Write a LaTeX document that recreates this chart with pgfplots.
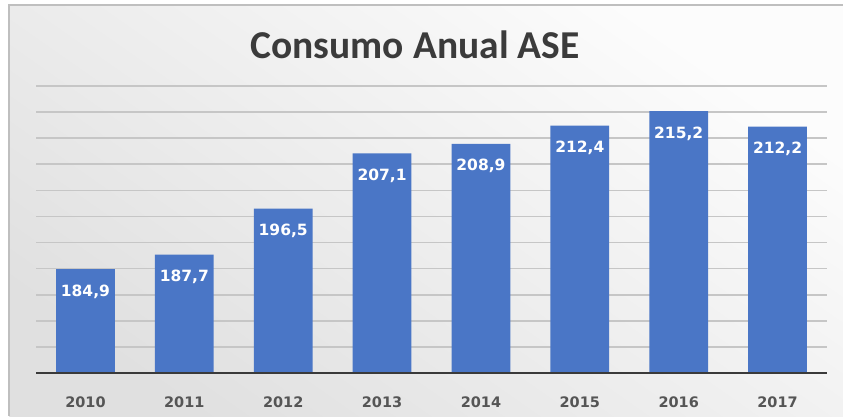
\documentclass[border=0pt]{standalone}
\usepackage{pgfplots}
\pgfplotsset{compat=1.18}
\usepackage{fontspec}
\setmainfont{Carlito}
\newfontfamily\djs{DejaVu Sans}
\definecolor{barblue}{HTML}{4A76C6}
\definecolor{gridc}{HTML}{C6C6C6}
\definecolor{basec}{HTML}{3A3A3A}
\definecolor{tickc}{HTML}{555555}
\definecolor{titlec}{HTML}{3B3B3B}
\begin{document}
\begin{tikzpicture}[x=1pt,y=1pt]
\useasboundingbox (0,0) rectangle (843,416);
\fill[white] (0,0) rectangle (843,416);
\shade[top color=black!1, bottom color=black!12, shading angle=-35] (9,0) rectangle (843,411);
\draw[black!25, line width=1.2pt] (9,0) -- (9,411) -- (843,411);
\node[font=\fontsize{39.5}{42}\selectfont\bfseries, text=titlec] at (415,371) {Consumo Anual ASE};
\begin{axis}[
  at={(36pt,43pt)}, anchor=south west,
  scale only axis, width=791pt, height=287pt,
  xmin=-0.5, xmax=7.5, ymin=165, ymax=220,
  ytick={165,170,...,220}, yticklabels={},
  ymajorgrids, grid style={gridc, line width=1.7pt},
  major tick length=0pt,
  axis line style={draw=none},
  xtick=data,
  xticklabels={2010,2011,2012,2013,2014,2015,2016,2017},
  xticklabel style={font=\djs\bfseries\fontsize{14.5}{16}\selectfont, text=tickc, yshift=-20pt},
  ybar, bar width=0.595,
  nodes near coords,
  /pgf/number format/.cd, use comma, fixed, fixed zerofill, precision=1, assume math mode=true,
  /pgfplots/.cd,
  every node near coord/.append style={font=\djs\bfseries\fontsize{15.5}{17}\selectfont, text=white, anchor=north, yshift=-12pt},
]
\addplot[fill=barblue, draw=none] coordinates {
(0,184.9) (1,187.7) (2,196.5) (3,207.1) (4,208.9) (5,212.4) (6,215.2) (7,212.2)};
\draw[basec, line width=2.6pt] (axis cs:-0.5,165) -- (axis cs:7.5,165);
\end{axis}
\end{tikzpicture}
\end{document}
